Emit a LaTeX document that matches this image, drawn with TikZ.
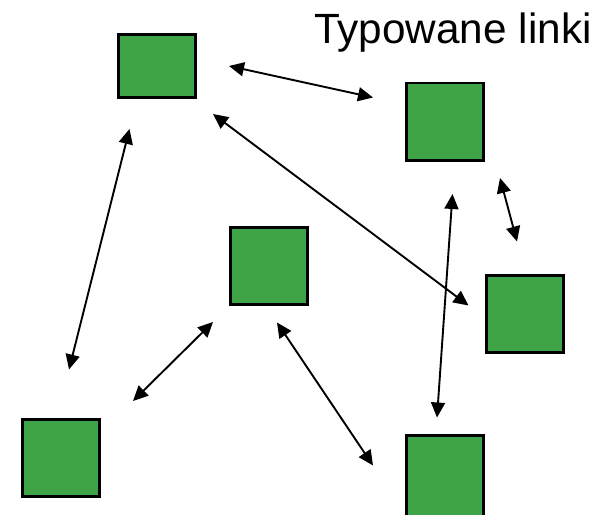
\documentclass[tikz,border=0pt]{standalone}
\usepackage{fontspec}
\setmainfont{Liberation Sans}
\usetikzlibrary{arrows.meta}
\definecolor{boxgreen}{HTML}{3EA445}
\tikzset{greenbox/.style={draw=black,fill=boxgreen,line width=2.6pt,inner sep=0pt,minimum width=77.5pt,minimum height=77.5pt},typedlink/.style={line width=1.9pt,{Triangle[length=15pt,width=14pt]}-{Triangle[length=15pt,width=14pt]}},titletext/.style={font=\fontsize{42.3}{50}\selectfont,inner sep=0pt,anchor=base west}}

\begin{document}
\begin{tikzpicture}[x=1pt,y=-1pt]
\useasboundingbox (0,0) rectangle (604,514);
\node[titletext] (title) at (314,43.3) {Typowane linki};
\node[greenbox,minimum height=62.5pt] (tl) at (157,66) {};
\node[greenbox] (tr) at (445,121.7) {};
\node[greenbox] (mid) at (269,266) {};
\node[greenbox] (rt) at (525,314) {};
\node[greenbox] (bl) at (61,458) {};
\node[greenbox,minimum height=87.5pt] (br) at (445,479) {};
% link ends
\coordinate (tlA) at (229,66);    \coordinate (trA) at (373,97.5);
\coordinate (tlB) at (213,114);   \coordinate (rtB) at (468.5,305.5);
\coordinate (tlC) at (129.5,129); \coordinate (blC) at (69,369.5);
\coordinate (trD) at (500,178);   \coordinate (rtD) at (517,241.5);
\coordinate (trE) at (452.5,194); \coordinate (brE) at (437,417.5);
\coordinate (midF) at (213,322);  \coordinate (blF) at (133,401);
\coordinate (midG) at (277,322.5);\coordinate (brG) at (373,465.5);
\draw[typedlink] (tlA)--(trA);
\draw[typedlink] (tlB)--(rtB);
\draw[typedlink] (tlC)--(blC);
\draw[typedlink] (trD)--(rtD);
\draw[typedlink] (trE)--(brE);
\draw[typedlink] (midF)--(blF);
\draw[typedlink] (midG)--(brG);
\end{tikzpicture}
\end{document}
